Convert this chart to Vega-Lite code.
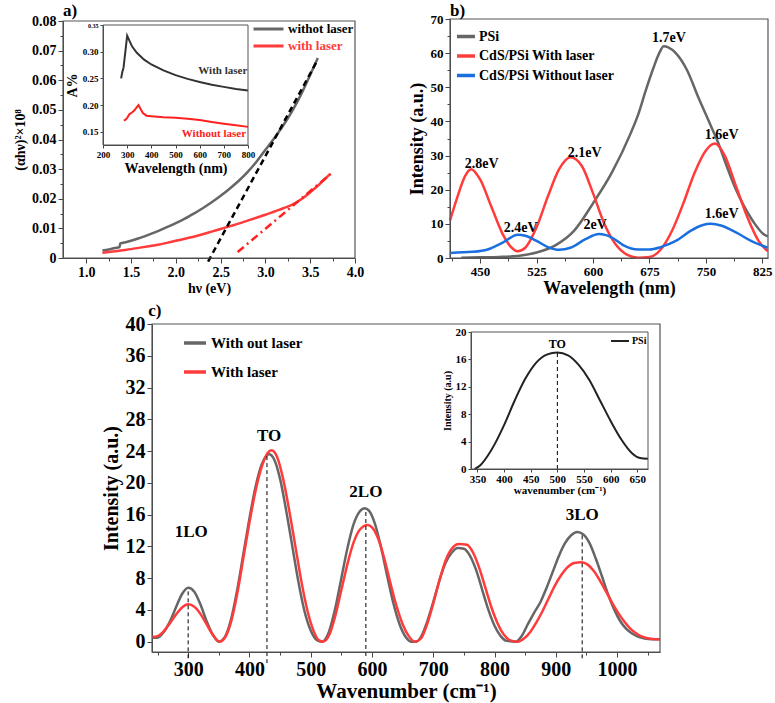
{
"$schema": "https://vega.github.io/schema/vega-lite/v6.json",
"width": 775, "height": 703, "autosize": {"type": "none"}, "padding": 0, "background": "white",
"config": {
 "view": {"stroke": null},
 "font": "Liberation Serif, Times New Roman, serif",
 "axis": {"grid": false, "labelFont": "Liberation Serif, Times New Roman, serif", "labelFontWeight": "bold", "labelColor": "#000", "titleFont": "Liberation Serif, Times New Roman, serif", "titleFontWeight": "bold", "titleColor": "#000", "domainColor": "#444", "tickColor": "#444", "labelOverlap": false, "labelFlush": false, "labelPadding": 2},
 "legend": {"labelFont": "Liberation Serif, Times New Roman, serif", "labelFontWeight": "bold", "labelColor": "#000", "symbolType": "stroke", "padding": 0, "labelLimit": 400},
 "text": {"font": "Liberation Serif, Times New Roman, serif", "fontWeight": "bold", "color": "#000"}
},
"resolve": {"scale": {"x": "independent", "y": "independent", "color": "independent"}, "axis": {"x": "independent", "y": "independent"}, "legend": {"color": "independent"}},
"layer": [
 {"layer": [
  {"data": {"values": [
    {"x":1.18,"y":0.0025,"s":"withot laser"},{"x":1.25,"y":0.0029,"s":"withot laser"},{"x":1.32,"y":0.0034,"s":"withot laser"},{"x":1.37,"y":0.0037,"s":"withot laser"},{"x":1.38,"y":0.0049,"s":"withot laser"},{"x":1.45,"y":0.0054,"s":"withot laser"},{"x":1.5,"y":0.0058,"s":"withot laser"},{"x":1.6,"y":0.0068,"s":"withot laser"},{"x":1.7,"y":0.0079,"s":"withot laser"},{"x":1.8,"y":0.0091,"s":"withot laser"},{"x":1.9,"y":0.0104,"s":"withot laser"},{"x":2.0,"y":0.0118,"s":"withot laser"},{"x":2.1,"y":0.0133,"s":"withot laser"},{"x":2.2,"y":0.0150,"s":"withot laser"},{"x":2.3,"y":0.0168,"s":"withot laser"},{"x":2.4,"y":0.0188,"s":"withot laser"},{"x":2.5,"y":0.0210,"s":"withot laser"},{"x":2.6,"y":0.0234,"s":"withot laser"},{"x":2.7,"y":0.0260,"s":"withot laser"},{"x":2.8,"y":0.0290,"s":"withot laser"},{"x":2.9,"y":0.0325,"s":"withot laser"},{"x":3.0,"y":0.0365,"s":"withot laser"},{"x":3.1,"y":0.0405,"s":"withot laser"},{"x":3.2,"y":0.0448,"s":"withot laser"},{"x":3.3,"y":0.0497,"s":"withot laser"},{"x":3.4,"y":0.0553,"s":"withot laser"},{"x":3.5,"y":0.0618,"s":"withot laser"},{"x":3.585,"y":0.0675,"s":"withot laser"},
    {"x":1.18,"y":0.0018,"s":"with laser"},{"x":1.3,"y":0.0022,"s":"with laser"},{"x":1.4,"y":0.0026,"s":"with laser"},{"x":1.5,"y":0.0030,"s":"with laser"},{"x":1.6,"y":0.0035,"s":"with laser"},{"x":1.7,"y":0.0040,"s":"with laser"},{"x":1.8,"y":0.0045,"s":"with laser"},{"x":1.9,"y":0.0051,"s":"with laser"},{"x":2.0,"y":0.0058,"s":"with laser"},{"x":2.1,"y":0.0065,"s":"with laser"},{"x":2.2,"y":0.0072,"s":"with laser"},{"x":2.3,"y":0.0080,"s":"with laser"},{"x":2.4,"y":0.0089,"s":"with laser"},{"x":2.5,"y":0.0098,"s":"with laser"},{"x":2.6,"y":0.0107,"s":"with laser"},{"x":2.7,"y":0.0116,"s":"with laser"},{"x":2.8,"y":0.0126,"s":"with laser"},{"x":2.9,"y":0.0136,"s":"with laser"},{"x":3.0,"y":0.0146,"s":"with laser"},{"x":3.1,"y":0.0157,"s":"with laser"},{"x":3.2,"y":0.0168,"s":"with laser"},{"x":3.3,"y":0.0180,"s":"with laser"},{"x":3.4,"y":0.0198,"s":"with laser"},{"x":3.5,"y":0.0222,"s":"with laser"},{"x":3.6,"y":0.0248,"s":"with laser"},{"x":3.72,"y":0.0283,"s":"with laser"}
   ]},
   "mark": {"type": "line", "strokeWidth": 2.5, "interpolate": "monotone"},
   "encoding": {
    "x": {"field": "x", "type": "quantitative", "scale": {"domain": [0.74, 4.0], "range": [63, 355], "nice": false, "zero": false},
      "axis": {"orient": "bottom", "offset": -445, "values": [1,1.25,1.5,1.75,2,2.25,2.5,2.75,3,3.25,3.5,3.75,4], "labelExpr": "(datum.value*2) % 1 == 0 ? format(datum.value, '.1f') : ''", "tickSize": {"condition": {"test": "(datum.value*2) % 1 != 0", "value": 3}, "value": 5}, "labelFontSize": 14, "title": "hν (eV)", "titleFontSize": 14, "titlePadding": 2}},
    "y": {"field": "y", "type": "quantitative", "scale": {"domain": [0, 0.08], "range": [258, 21], "nice": false, "zero": false},
      "axis": {"orient": "left", "offset": -63, "values": [0,0.005,0.01,0.015,0.02,0.025,0.03,0.035,0.04,0.045,0.05,0.055,0.06,0.065,0.07,0.075,0.08], "labelExpr": "datum.value == 0 ? '0' : (round(datum.value*1000) % 10 == 0 ? format(datum.value, '.2f') : '')", "tickSize": {"condition": {"test": "round(datum.value*1000) % 10 != 0", "value": 3}, "value": 5}, "labelFontSize": 14, "title": "(αhν)²×10⁸", "titleFontSize": 14, "titlePadding": 4}},
    "color": {"field": "s", "type": "nominal", "scale": {"domain": ["withot laser", "with laser"], "range": ["#666666", "#ff3b3b"]},
      "legend": {"orient": "none", "legendX": 262, "legendY": 22.5, "title": null, "labelFontSize": 13, "symbolType": "M-3,0H3", "symbolSize": 100, "symbolStrokeWidth": 3, "rowPadding": 3, "labelOffset": 13, "labelColor": {"expr": "datum.label == 'with laser' ? '#ff3b3b' : '#000000'"}}}
   }},
  {"data": {"values": [{"x": 2.36, "y": -0.0012}, {"x": 3.585, "y": 0.067}]},
   "mark": {"type": "line", "color": "#000", "strokeWidth": 2.5, "strokeDash": [6, 4]},
   "encoding": {"x": {"field": "x", "type": "quantitative"}, "y": {"field": "y", "type": "quantitative"}}},
  {"data": {"values": [{"x": 2.69, "y": 0.002}, {"x": 3.73, "y": 0.0284}]},
   "mark": {"type": "line", "color": "#ff2020", "strokeWidth": 2.5, "strokeDash": [8, 4, 2, 4]},
   "encoding": {"x": {"field": "x", "type": "quantitative"}, "y": {"field": "y", "type": "quantitative"}}},
  {"data": {"values": [{}]},
   "mark": {"type": "rect", "fill": "white", "fillOpacity": 0, "stroke": "#555", "strokeWidth": 1.2},
   "encoding": {"x": {"datum": 0.74, "type": "quantitative"}, "x2": {"datum": 4.0}, "y": {"datum": 0, "type": "quantitative"}, "y2": {"datum": 0.08}}},
  {"data": {"values": [{}]},
   "mark": {"type": "text", "text": "a)", "align": "left", "baseline": "middle", "fontSize": 17},
   "encoding": {"x": {"datum": 0.74, "type": "quantitative"}, "y": {"datum": 0.0834, "type": "quantitative"}}}
 ]},
 {"layer": [
  {"data": {"values": [
    {"x":275,"y":0.250,"s":"With laser"},{"x":280,"y":0.262,"s":"With laser"},{"x":285,"y":0.270,"s":"With laser"},{"x":290,"y":0.290,"s":"With laser"},{"x":295,"y":0.310,"s":"With laser"},{"x":300,"y":0.330,"s":"With laser"},{"x":305,"y":0.325,"s":"With laser"},{"x":320,"y":0.310,"s":"With laser"},{"x":340,"y":0.298,"s":"With laser"},{"x":370,"y":0.285,"s":"With laser"},{"x":400,"y":0.276,"s":"With laser"},{"x":450,"y":0.265,"s":"With laser"},{"x":500,"y":0.256,"s":"With laser"},{"x":550,"y":0.249,"s":"With laser"},{"x":600,"y":0.243,"s":"With laser"},{"x":650,"y":0.238,"s":"With laser"},{"x":700,"y":0.234,"s":"With laser"},{"x":750,"y":0.230,"s":"With laser"},{"x":800,"y":0.227,"s":"With laser"},
    {"x":286,"y":0.171,"s":"Without laser"},{"x":292,"y":0.172,"s":"Without laser"},{"x":300,"y":0.176,"s":"Without laser"},{"x":310,"y":0.183,"s":"Without laser"},{"x":320,"y":0.186,"s":"Without laser"},{"x":330,"y":0.190,"s":"Without laser"},{"x":340,"y":0.196,"s":"Without laser"},{"x":347,"y":0.200,"s":"Without laser"},{"x":355,"y":0.193,"s":"Without laser"},{"x":365,"y":0.185,"s":"Without laser"},{"x":380,"y":0.180,"s":"Without laser"},{"x":400,"y":0.179,"s":"Without laser"},{"x":450,"y":0.177,"s":"Without laser"},{"x":500,"y":0.176,"s":"Without laser"},{"x":550,"y":0.174,"s":"Without laser"},{"x":600,"y":0.172,"s":"Without laser"},{"x":650,"y":0.168,"s":"Without laser"},{"x":700,"y":0.165,"s":"Without laser"},{"x":750,"y":0.162,"s":"Without laser"},{"x":800,"y":0.159,"s":"Without laser"}
   ]},
   "mark": {"type": "line", "strokeWidth": 2},
   "encoding": {
    "x": {"field": "x", "type": "quantitative", "scale": {"domain": [200, 800], "range": [103, 248], "nice": false, "zero": false},
      "axis": {"orient": "bottom", "offset": -558, "values": [200,300,400,500,600,700,800], "tickSize": 3, "labelFontSize": 9, "title": "Wavelength (nm)", "titleFontSize": 14, "titlePadding": 2}},
    "y": {"field": "y", "type": "quantitative", "scale": {"domain": [0.125, 0.35], "range": [145, 25], "nice": false, "zero": false},
      "axis": {"orient": "left", "offset": -103, "values": [0.15,0.2,0.25,0.3,0.35], "format": ".2f", "tickSize": 3, "labelFontSize": {"condition": {"test": "datum.value > 0.34", "value": 6}, "value": 9}, "title": "A%", "titleFontSize": 14, "titlePadding": 3}},
    "color": {"field": "s", "type": "nominal", "scale": {"domain": ["With laser", "Without laser"], "range": ["#333333", "#ff2020"]}, "legend": null}
   }},
  {"data": {"values": [{"x": 797, "y": 0.264, "t": "With laser", "s": "With laser"}, {"x": 792, "y": 0.146, "t": "Without laser", "s": "Without laser"}]},
   "mark": {"type": "text", "align": "right", "baseline": "middle", "fontSize": 11},
   "encoding": {"x": {"field": "x", "type": "quantitative"}, "y": {"field": "y", "type": "quantitative"}, "text": {"field": "t"}, "color": {"field": "s", "type": "nominal", "legend": null}}},
  {"data": {"values": [{}]},
   "mark": {"type": "rect", "fill": "white", "fillOpacity": 0, "stroke": "#555", "strokeWidth": 1},
   "encoding": {"x": {"datum": 200, "type": "quantitative"}, "x2": {"datum": 800}, "y": {"datum": 0.125, "type": "quantitative"}, "y2": {"datum": 0.35}}}
 ]},
 {"layer": [
  {"data": {"values": [
    {"x":425,"y":0.1,"s":"PSi"},{"x":450,"y":0.2,"s":"PSi"},{"x":475,"y":0.3,"s":"PSi"},{"x":500,"y":0.6,"s":"PSi"},{"x":525,"y":1.6,"s":"PSi"},{"x":550,"y":3.7,"s":"PSi"},{"x":575,"y":8,"s":"PSi"},{"x":600,"y":16,"s":"PSi"},{"x":625,"y":25,"s":"PSi"},{"x":650,"y":36.5,"s":"PSi"},{"x":660,"y":42,"s":"PSi"},{"x":670,"y":49,"s":"PSi"},{"x":680,"y":55.5,"s":"PSi"},{"x":688,"y":60,"s":"PSi"},{"x":694,"y":62,"s":"PSi"},{"x":700,"y":61.7,"s":"PSi"},{"x":710,"y":60,"s":"PSi"},{"x":725,"y":55,"s":"PSi"},{"x":740,"y":47,"s":"PSi"},{"x":750,"y":42,"s":"PSi"},{"x":760,"y":37,"s":"PSi"},{"x":765,"y":34.5,"s":"PSi"},{"x":775,"y":28.5,"s":"PSi"},{"x":790,"y":20,"s":"PSi"},{"x":800,"y":15.5,"s":"PSi"},{"x":815,"y":10,"s":"PSi"},{"x":825,"y":7.3,"s":"PSi"},{"x":832,"y":6.3,"s":"PSi"},
    {"x":410,"y":11,"s":"CdS/PSi With laser"},{"x":420,"y":18,"s":"CdS/PSi With laser"},{"x":430,"y":24,"s":"CdS/PSi With laser"},{"x":438,"y":26,"s":"CdS/PSi With laser"},{"x":450,"y":23,"s":"CdS/PSi With laser"},{"x":465,"y":15,"s":"CdS/PSi With laser"},{"x":480,"y":7,"s":"CdS/PSi With laser"},{"x":490,"y":3.5,"s":"CdS/PSi With laser"},{"x":500,"y":2,"s":"CdS/PSi With laser"},{"x":510,"y":3,"s":"CdS/PSi With laser"},{"x":525,"y":9,"s":"CdS/PSi With laser"},{"x":540,"y":18,"s":"CdS/PSi With laser"},{"x":555,"y":26,"s":"CdS/PSi With laser"},{"x":570,"y":29.5,"s":"CdS/PSi With laser"},{"x":585,"y":27,"s":"CdS/PSi With laser"},{"x":600,"y":19,"s":"CdS/PSi With laser"},{"x":615,"y":10,"s":"CdS/PSi With laser"},{"x":630,"y":4,"s":"CdS/PSi With laser"},{"x":645,"y":1,"s":"CdS/PSi With laser"},{"x":660,"y":0.1,"s":"CdS/PSi With laser"},{"x":675,"y":0.3,"s":"CdS/PSi With laser"},{"x":690,"y":2.5,"s":"CdS/PSi With laser"},{"x":705,"y":8,"s":"CdS/PSi With laser"},{"x":720,"y":16,"s":"CdS/PSi With laser"},{"x":735,"y":25,"s":"CdS/PSi With laser"},{"x":750,"y":31.5,"s":"CdS/PSi With laser"},{"x":762,"y":33.5,"s":"CdS/PSi With laser"},{"x":775,"y":30,"s":"CdS/PSi With laser"},{"x":790,"y":21,"s":"CdS/PSi With laser"},{"x":805,"y":12,"s":"CdS/PSi With laser"},{"x":820,"y":5,"s":"CdS/PSi With laser"},{"x":832,"y":2,"s":"CdS/PSi With laser"},
    {"x":410,"y":1.5,"s":"CdS/PSi Without laser"},{"x":440,"y":1.8,"s":"CdS/PSi Without laser"},{"x":460,"y":2.5,"s":"CdS/PSi Without laser"},{"x":480,"y":4.5,"s":"CdS/PSi Without laser"},{"x":500,"y":6.8,"s":"CdS/PSi Without laser"},{"x":510,"y":6.5,"s":"CdS/PSi Without laser"},{"x":525,"y":5,"s":"CdS/PSi Without laser"},{"x":540,"y":3.2,"s":"CdS/PSi Without laser"},{"x":555,"y":2.4,"s":"CdS/PSi Without laser"},{"x":570,"y":3,"s":"CdS/PSi Without laser"},{"x":590,"y":5.5,"s":"CdS/PSi Without laser"},{"x":608,"y":7,"s":"CdS/PSi Without laser"},{"x":625,"y":6,"s":"CdS/PSi Without laser"},{"x":640,"y":3.8,"s":"CdS/PSi Without laser"},{"x":660,"y":2.5,"s":"CdS/PSi Without laser"},{"x":675,"y":2.5,"s":"CdS/PSi Without laser"},{"x":690,"y":3.2,"s":"CdS/PSi Without laser"},{"x":710,"y":5,"s":"CdS/PSi Without laser"},{"x":730,"y":8,"s":"CdS/PSi Without laser"},{"x":745,"y":9.6,"s":"CdS/PSi Without laser"},{"x":757,"y":10,"s":"CdS/PSi Without laser"},{"x":770,"y":9.5,"s":"CdS/PSi Without laser"},{"x":790,"y":7.5,"s":"CdS/PSi Without laser"},{"x":810,"y":5,"s":"CdS/PSi Without laser"},{"x":832,"y":3,"s":"CdS/PSi Without laser"}
   ]},
   "mark": {"type": "line", "strokeWidth": 2.5, "interpolate": "monotone"},
   "encoding": {
    "x": {"field": "x", "type": "quantitative", "scale": {"domain": [410, 832.5], "range": [450, 768], "nice": false, "zero": false},
      "axis": {"orient": "bottom", "offset": -445, "values": [412.5,450,487.5,525,562.5,600,637.5,675,712.5,750,787.5,825], "labelExpr": "(datum.value - 450) % 75 == 0 ? format(datum.value, 'd') : ''", "tickSize": {"condition": {"test": "(datum.value - 450) % 75 != 0", "value": 3}, "value": 5}, "labelFontSize": 13, "title": "Wavelength (nm)", "titleFontSize": 18, "titlePadding": 1}},
    "y": {"field": "y", "type": "quantitative", "scale": {"domain": [0, 70], "range": [258, 19], "nice": false, "zero": false},
      "axis": {"orient": "left", "offset": -450, "values": [0,5,10,15,20,25,30,35,40,45,50,55,60,65,70], "labelExpr": "datum.value % 10 == 0 ? format(datum.value, 'd') : ''", "tickSize": {"condition": {"test": "datum.value % 10 != 0", "value": 3}, "value": 5}, "labelFontSize": 13, "title": "Intensity (a.u.)", "titleFontSize": 18, "titlePadding": 4}},
    "color": {"field": "s", "type": "nominal", "scale": {"domain": ["PSi", "CdS/PSi With laser", "CdS/PSi Without laser"], "range": ["#666666", "#ff3b3b", "#1a6fdf"]},
      "legend": {"orient": "none", "legendX": 455, "legendY": 25.5, "title": null, "labelFontSize": 14, "symbolSize": 324, "symbolStrokeWidth": 3.5, "rowPadding": 1.5, "labelOffset": 2}}
   }},
  {"data": {"values": [
    {"x":452,"y":27.6,"t":"2.8eV"},{"x":504,"y":8.8,"t":"2.4eV"},{"x":589,"y":30.8,"t":"2.1eV"},{"x":603,"y":9.8,"t":"2eV"},{"x":701,"y":64.4,"t":"1.7eV"},{"x":771,"y":36,"t":"1.6eV"},{"x":771,"y":13,"t":"1.6eV"}
   ]},
   "mark": {"type": "text", "align": "center", "baseline": "middle", "fontSize": 14},
   "encoding": {"x": {"field": "x", "type": "quantitative"}, "y": {"field": "y", "type": "quantitative"}, "text": {"field": "t"}}},
  {"data": {"values": [{}]},
   "mark": {"type": "rect", "fill": "white", "fillOpacity": 0, "stroke": "#555", "strokeWidth": 1.2},
   "encoding": {"x": {"datum": 410, "type": "quantitative"}, "x2": {"datum": 832.5}, "y": {"datum": 0, "type": "quantitative"}, "y2": {"datum": 70}}},
  {"data": {"values": [{}]},
   "mark": {"type": "text", "text": "b)", "align": "left", "baseline": "middle", "fontSize": 17},
   "encoding": {"x": {"datum": 410, "type": "quantitative"}, "y": {"datum": 72.3, "type": "quantitative"}}}
 ]},
 {"layer": [
  {"data": {"values": [
    {"x":241,"y":0.5,"s":"With out laser"},{"x":250,"y":0.5,"s":"With out laser"},{"x":260,"y":1.2,"s":"With out laser"},{"x":270,"y":2.5,"s":"With out laser"},{"x":280,"y":4.3,"s":"With out laser"},{"x":290,"y":6,"s":"With out laser"},{"x":300,"y":6.8,"s":"With out laser"},{"x":310,"y":6.3,"s":"With out laser"},{"x":320,"y":4.7,"s":"With out laser"},{"x":330,"y":2.6,"s":"With out laser"},{"x":340,"y":0.9,"s":"With out laser"},{"x":350,"y":0,"s":"With out laser"},{"x":360,"y":0.6,"s":"With out laser"},{"x":370,"y":2.8,"s":"With out laser"},{"x":380,"y":6.5,"s":"With out laser"},{"x":390,"y":11,"s":"With out laser"},{"x":400,"y":15.5,"s":"With out laser"},{"x":410,"y":19.5,"s":"With out laser"},{"x":420,"y":22.3,"s":"With out laser"},{"x":432,"y":23.6,"s":"With out laser"},{"x":440,"y":23,"s":"With out laser"},{"x":450,"y":20.5,"s":"With out laser"},{"x":460,"y":16.5,"s":"With out laser"},{"x":470,"y":12,"s":"With out laser"},{"x":480,"y":7.5,"s":"With out laser"},{"x":490,"y":3.8,"s":"With out laser"},{"x":500,"y":1.4,"s":"With out laser"},{"x":510,"y":0.2,"s":"With out laser"},{"x":518,"y":0,"s":"With out laser"},{"x":530,"y":1.3,"s":"With out laser"},{"x":540,"y":4.2,"s":"With out laser"},{"x":550,"y":8,"s":"With out laser"},{"x":560,"y":11.8,"s":"With out laser"},{"x":570,"y":14.8,"s":"With out laser"},{"x":580,"y":16.4,"s":"With out laser"},{"x":588,"y":16.8,"s":"With out laser"},{"x":595,"y":16.5,"s":"With out laser"},{"x":605,"y":14.8,"s":"With out laser"},{"x":615,"y":11.8,"s":"With out laser"},{"x":625,"y":8.2,"s":"With out laser"},{"x":635,"y":4.8,"s":"With out laser"},{"x":645,"y":2.2,"s":"With out laser"},{"x":655,"y":0.6,"s":"With out laser"},{"x":665,"y":0,"s":"With out laser"},{"x":672,"y":0,"s":"With out laser"},{"x":680,"y":0.6,"s":"With out laser"},{"x":690,"y":2.5,"s":"With out laser"},{"x":700,"y":5,"s":"With out laser"},{"x":710,"y":7.7,"s":"With out laser"},{"x":720,"y":9.9,"s":"With out laser"},{"x":730,"y":11.2,"s":"With out laser"},{"x":740,"y":11.8,"s":"With out laser"},{"x":750,"y":11.7,"s":"With out laser"},{"x":760,"y":10.8,"s":"With out laser"},{"x":770,"y":9,"s":"With out laser"},{"x":780,"y":6.5,"s":"With out laser"},{"x":790,"y":4,"s":"With out laser"},{"x":800,"y":2,"s":"With out laser"},{"x":810,"y":0.7,"s":"With out laser"},{"x":820,"y":0.1,"s":"With out laser"},{"x":835,"y":0,"s":"With out laser"},{"x":845,"y":0.8,"s":"With out laser"},{"x":855,"y":2.3,"s":"With out laser"},{"x":865,"y":3.7,"s":"With out laser"},{"x":875,"y":5,"s":"With out laser"},{"x":885,"y":6.8,"s":"With out laser"},{"x":895,"y":8.8,"s":"With out laser"},{"x":905,"y":10.8,"s":"With out laser"},{"x":915,"y":12.4,"s":"With out laser"},{"x":925,"y":13.4,"s":"With out laser"},{"x":935,"y":13.8,"s":"With out laser"},{"x":945,"y":13.5,"s":"With out laser"},{"x":955,"y":12.4,"s":"With out laser"},{"x":965,"y":10.5,"s":"With out laser"},{"x":975,"y":8.3,"s":"With out laser"},{"x":985,"y":6,"s":"With out laser"},{"x":995,"y":4.1,"s":"With out laser"},{"x":1005,"y":2.6,"s":"With out laser"},{"x":1015,"y":1.6,"s":"With out laser"},{"x":1025,"y":1,"s":"With out laser"},{"x":1035,"y":0.6,"s":"With out laser"},{"x":1045,"y":0.4,"s":"With out laser"},{"x":1055,"y":0.3,"s":"With out laser"},{"x":1070,"y":0.3,"s":"With out laser"},
    {"x":241,"y":0.6,"s":"With laser"},{"x":250,"y":0.7,"s":"With laser"},{"x":260,"y":1.3,"s":"With laser"},{"x":270,"y":2.3,"s":"With laser"},{"x":280,"y":3.4,"s":"With laser"},{"x":290,"y":4.3,"s":"With laser"},{"x":300,"y":4.7,"s":"With laser"},{"x":310,"y":4.4,"s":"With laser"},{"x":320,"y":3.5,"s":"With laser"},{"x":330,"y":2.2,"s":"With laser"},{"x":340,"y":0.9,"s":"With laser"},{"x":352,"y":0,"s":"With laser"},{"x":360,"y":0.5,"s":"With laser"},{"x":370,"y":2.5,"s":"With laser"},{"x":380,"y":6,"s":"With laser"},{"x":390,"y":10.5,"s":"With laser"},{"x":400,"y":15,"s":"With laser"},{"x":410,"y":19,"s":"With laser"},{"x":420,"y":22,"s":"With laser"},{"x":430,"y":23.8,"s":"With laser"},{"x":436,"y":24.1,"s":"With laser"},{"x":445,"y":23.3,"s":"With laser"},{"x":455,"y":20.5,"s":"With laser"},{"x":465,"y":16.5,"s":"With laser"},{"x":475,"y":12,"s":"With laser"},{"x":485,"y":7.5,"s":"With laser"},{"x":495,"y":3.8,"s":"With laser"},{"x":505,"y":1.3,"s":"With laser"},{"x":513,"y":0.2,"s":"With laser"},{"x":520,"y":0,"s":"With laser"},{"x":530,"y":0.8,"s":"With laser"},{"x":540,"y":3.2,"s":"With laser"},{"x":550,"y":6.5,"s":"With laser"},{"x":560,"y":9.8,"s":"With laser"},{"x":570,"y":12.5,"s":"With laser"},{"x":580,"y":14.1,"s":"With laser"},{"x":593,"y":14.7,"s":"With laser"},{"x":600,"y":14.4,"s":"With laser"},{"x":610,"y":13,"s":"With laser"},{"x":620,"y":10.5,"s":"With laser"},{"x":630,"y":7.4,"s":"With laser"},{"x":640,"y":4.5,"s":"With laser"},{"x":650,"y":2.2,"s":"With laser"},{"x":660,"y":0.7,"s":"With laser"},{"x":670,"y":0,"s":"With laser"},{"x":680,"y":0.4,"s":"With laser"},{"x":690,"y":2.2,"s":"With laser"},{"x":700,"y":4.8,"s":"With laser"},{"x":710,"y":7.7,"s":"With laser"},{"x":720,"y":10.2,"s":"With laser"},{"x":730,"y":11.7,"s":"With laser"},{"x":742,"y":12.3,"s":"With laser"},{"x":755,"y":12.2,"s":"With laser"},{"x":765,"y":11.2,"s":"With laser"},{"x":775,"y":9.3,"s":"With laser"},{"x":785,"y":6.8,"s":"With laser"},{"x":795,"y":4.3,"s":"With laser"},{"x":805,"y":2.3,"s":"With laser"},{"x":815,"y":0.9,"s":"With laser"},{"x":825,"y":0.2,"s":"With laser"},{"x":838,"y":0,"s":"With laser"},{"x":848,"y":0.4,"s":"With laser"},{"x":858,"y":1.2,"s":"With laser"},{"x":868,"y":2.4,"s":"With laser"},{"x":878,"y":3.8,"s":"With laser"},{"x":888,"y":5.4,"s":"With laser"},{"x":898,"y":7,"s":"With laser"},{"x":908,"y":8.3,"s":"With laser"},{"x":918,"y":9.3,"s":"With laser"},{"x":930,"y":9.9,"s":"With laser"},{"x":942,"y":10,"s":"With laser"},{"x":952,"y":9.7,"s":"With laser"},{"x":962,"y":8.9,"s":"With laser"},{"x":972,"y":7.7,"s":"With laser"},{"x":982,"y":6.3,"s":"With laser"},{"x":992,"y":4.9,"s":"With laser"},{"x":1002,"y":3.6,"s":"With laser"},{"x":1012,"y":2.5,"s":"With laser"},{"x":1022,"y":1.6,"s":"With laser"},{"x":1032,"y":1,"s":"With laser"},{"x":1042,"y":0.6,"s":"With laser"},{"x":1052,"y":0.4,"s":"With laser"},{"x":1062,"y":0.3,"s":"With laser"},{"x":1070,"y":0.3,"s":"With laser"}
   ]},
   "mark": {"type": "line", "strokeWidth": 2.5, "interpolate": "monotone"},
   "encoding": {
    "x": {"field": "x", "type": "quantitative", "scale": {"domain": [241, 1070], "range": [152, 660], "nice": false, "zero": false},
      "axis": {"orient": "bottom", "offset": -51, "values": [250,300,350,400,450,500,550,600,650,700,750,800,850,900,950,1000,1050], "labelExpr": "datum.value % 100 == 0 ? format(datum.value, 'd') : ''", "tickSize": {"condition": {"test": "datum.value % 100 != 0", "value": 3}, "value": 5}, "labelFontSize": 20, "title": "Wavenumber (cm⁻¹)", "titleFontSize": 21, "titlePadding": 1}},
    "y": {"field": "y", "type": "quantitative", "scale": {"domain": [-1.3, 40], "range": [652, 324], "nice": false, "zero": false},
      "axis": {"orient": "left", "offset": -152, "values": [0,2,4,6,8,10,12,14,16,18,20,22,24,26,28,30,32,34,36,38,40], "labelExpr": "datum.value % 4 == 0 ? format(datum.value, 'd') : ''", "tickSize": {"condition": {"test": "datum.value % 4 != 0", "value": 3}, "value": 5}, "labelFontSize": 20, "title": "Intensity (a.u.)", "titleFontSize": 20, "titlePadding": 4}},
    "color": {"field": "s", "type": "nominal", "scale": {"domain": ["With out laser", "With laser"], "range": ["#666666", "#ff3b3b"]},
      "legend": {"orient": "none", "legendX": 182, "legendY": 330, "title": null, "labelFontSize": 15, "symbolSize": 484, "symbolStrokeWidth": 3.5, "rowPadding": 8, "labelOffset": 3}}
   }},
  {"data": {"values": [{"x": 300, "y1": -2.1, "y2": 6.7}, {"x": 428.6, "y1": -2.7, "y2": 23.6}, {"x": 590, "y1": -1.8, "y2": 16.7}, {"x": 943, "y1": -2.1, "y2": 13.7}]},
   "mark": {"type": "rule", "color": "#000", "strokeWidth": 1, "strokeDash": [4, 3]},
   "encoding": {"x": {"field": "x", "type": "quantitative"}, "y": {"field": "y1", "type": "quantitative"}, "y2": {"field": "y2"}}},
  {"data": {"values": [{"x": 305, "y": 13.8, "t": "1LO"}, {"x": 432, "y": 25.9, "t": "TO"}, {"x": 590, "y": 18.9, "t": "2LO"}, {"x": 943, "y": 15.9, "t": "3LO"}]},
   "mark": {"type": "text", "align": "center", "baseline": "middle", "fontSize": 17},
   "encoding": {"x": {"field": "x", "type": "quantitative"}, "y": {"field": "y", "type": "quantitative"}, "text": {"field": "t"}}},
  {"data": {"values": [{}]},
   "mark": {"type": "rect", "fill": "white", "fillOpacity": 0, "stroke": "#555", "strokeWidth": 1.2},
   "encoding": {"x": {"datum": 241, "type": "quantitative"}, "x2": {"datum": 1070}, "y": {"datum": -1.3, "type": "quantitative"}, "y2": {"datum": 40}}},
  {"data": {"values": [{}]},
   "mark": {"type": "text", "text": "c)", "align": "left", "baseline": "middle", "fontSize": 17},
   "encoding": {"x": {"datum": 235, "type": "quantitative"}, "y": {"datum": 41.6, "type": "quantitative"}}}
 ]},
 {"layer": [
  {"data": {"values": [
    {"x":345,"y":0,"s":"PSi"},{"x":355,"y":0.5,"s":"PSi"},{"x":370,"y":2,"s":"PSi"},{"x":385,"y":4,"s":"PSi"},{"x":400,"y":6.4,"s":"PSi"},{"x":420,"y":10,"s":"PSi"},{"x":440,"y":13.2,"s":"PSi"},{"x":460,"y":15.5,"s":"PSi"},{"x":480,"y":16.7,"s":"PSi"},{"x":500,"y":17,"s":"PSi"},{"x":520,"y":16.6,"s":"PSi"},{"x":540,"y":15.2,"s":"PSi"},{"x":560,"y":13,"s":"PSi"},{"x":580,"y":10,"s":"PSi"},{"x":600,"y":7,"s":"PSi"},{"x":620,"y":4.3,"s":"PSi"},{"x":640,"y":2.3,"s":"PSi"},{"x":655,"y":1.6,"s":"PSi"},{"x":670,"y":1.5,"s":"PSi"}
   ]},
   "mark": {"type": "line", "strokeWidth": 2, "interpolate": "monotone"},
   "encoding": {
    "x": {"field": "x", "type": "quantitative", "scale": {"domain": [338, 670], "range": [471, 648], "nice": false, "zero": false},
      "axis": {"orient": "bottom", "offset": -234, "values": [350,400,450,500,550,600,650], "tickSize": 3, "labelFontSize": 11, "labelPadding": 1, "title": "wavenumber (cm⁻¹)", "titleFontSize": 11, "titlePadding": 0}},
    "y": {"field": "y", "type": "quantitative", "scale": {"domain": [0, 20], "range": [469, 332], "nice": false, "zero": false},
      "axis": {"orient": "left", "offset": -471, "values": [0,4,8,12,16,20], "tickSize": 3, "labelFontSize": 11, "title": "Intensity (a.u)", "titleFontSize": 10, "titlePadding": 3}},
    "color": {"field": "s", "type": "nominal", "scale": {"domain": ["PSi"], "range": ["#222222"]},
      "legend": {"orient": "none", "legendX": 610, "legendY": 331, "title": null, "labelFontSize": 10, "symbolSize": 324, "symbolStrokeWidth": 2, "labelOffset": 2}}
   }},
  {"data": {"values": [{"x": 500, "y1": 0, "y2": 17}]},
   "mark": {"type": "rule", "color": "#000", "strokeWidth": 1, "strokeDash": [4, 3]},
   "encoding": {"x": {"field": "x", "type": "quantitative"}, "y": {"field": "y1", "type": "quantitative"}, "y2": {"field": "y2"}}},
  {"data": {"values": [{"x": 500, "y": 18.3, "t": "TO"}]},
   "mark": {"type": "text", "align": "center", "baseline": "middle", "fontSize": 12},
   "encoding": {"x": {"field": "x", "type": "quantitative"}, "y": {"field": "y", "type": "quantitative"}, "text": {"field": "t"}}},
  {"data": {"values": [{}]},
   "mark": {"type": "rect", "fill": "white", "fillOpacity": 0, "stroke": "#555", "strokeWidth": 1},
   "encoding": {"x": {"datum": 338, "type": "quantitative"}, "x2": {"datum": 670}, "y": {"datum": 0, "type": "quantitative"}, "y2": {"datum": 20}}}
 ]}
]
}
